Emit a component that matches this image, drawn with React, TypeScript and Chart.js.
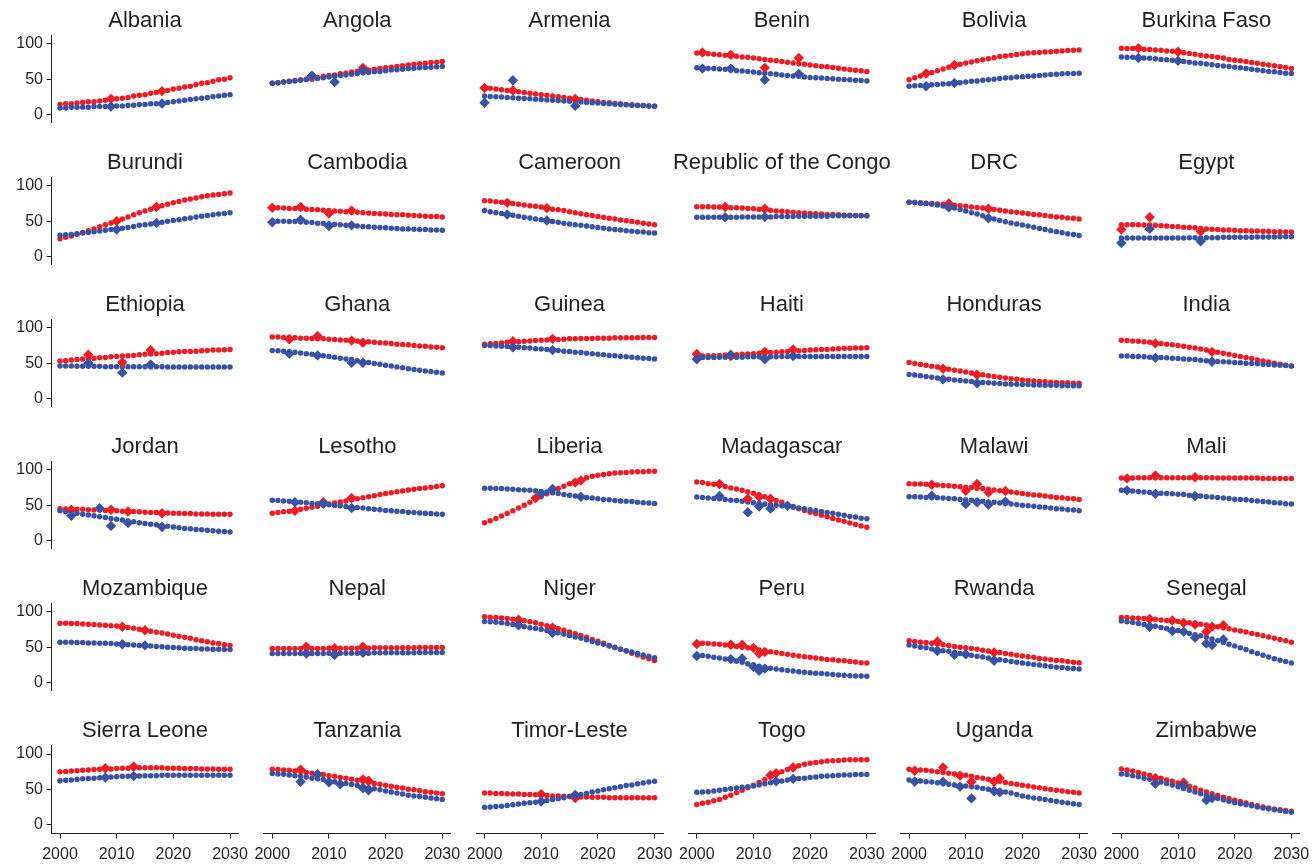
import React, { useEffect, useRef } from 'react';
import { Chart, registerables } from 'chart.js';

Chart.register(...registerables);

// ---------- axes ----------
const YEARS = [2000, 2001, 2002, 2003, 2004, 2005, 2006, 2007, 2008, 2009, 2010, 2011, 2012, 2013, 2014, 2015, 2016, 2017, 2018, 2019, 2020, 2021, 2022, 2023, 2024, 2025, 2026, 2027, 2028, 2029, 2030];
const X_TICKS = [2000, 2010, 2020, 2030];
const Y_TICKS = [0, 50, 100];

// ---------- data (red = first series, blue = second series; *Obs = observed diamonds [year, value]) ----------
const albaniaRed = [14, 15, 15, 16, 17, 18, 18, 19, 20, 21, 22, 23, 24, 26, 27, 28, 30, 31, 33, 34, 36, 37, 39, 40, 42, 44, 45, 47, 49, 50, 52];
const albaniaBlue = [9, 9, 10, 10, 10, 10, 11, 11, 11, 12, 12, 12, 13, 13, 14, 14, 15, 15, 16, 17, 18, 19, 20, 21, 22, 23, 24, 25, 26, 27, 28];
const albaniaRedObs = [[2009, 22], [2018, 33]];
const albaniaBlueObs = [[2009, 11], [2018, 15.5]];

const angolaRed = [44, 45, 46, 47, 48, 49, 50, 51.5, 52.5, 54, 55, 56, 57.5, 58.5, 60, 61, 62, 63, 64, 65, 66, 67, 68, 69, 70, 71, 72, 72.5, 73.5, 74, 75];
const angolaBlue = [44, 45, 46, 46.5, 47.5, 48.5, 49.5, 50, 51, 52, 53, 54, 55, 56, 57, 58, 59, 59.5, 60.5, 61, 62, 63, 63.5, 64, 65, 65.5, 66, 66.5, 67, 67.5, 68];
const angolaRedObs = [[2007, 54], [2016, 66]];
const angolaBlueObs = [[2007, 55], [2011, 46], [2016, 62]];

const armeniaRed = [37.5, 37, 36, 35, 34, 33, 32, 31, 30, 29, 28, 27, 26, 25, 24, 23, 22, 21, 20, 19, 18, 17, 16.5, 15.5, 15, 14, 13.5, 13, 12.5, 12, 11.5];
const armeniaBlue = [26, 25.5, 25, 24.5, 24, 23.5, 23, 22.5, 22, 21.5, 21, 20.5, 20, 19.5, 19, 18.5, 18, 17.5, 17, 16.5, 16, 15.5, 15, 14.5, 14, 13.5, 13, 12.5, 12.5, 12, 11.5];
const armeniaRedObs = [[2000, 37.5], [2005, 34], [2016, 22]];
const armeniaBlueObs = [[2000, 16.5], [2005, 48.5], [2016, 12]];

const beninRed = [87, 86.5, 86, 85.5, 84.5, 84, 83, 82.5, 81.5, 81, 80, 79, 78, 77, 76, 75, 74, 73, 72, 71, 70, 69, 68, 67.5, 66.5, 65.5, 64.5, 63.5, 62.5, 62, 61];
const beninBlue = [66, 65.5, 65, 65, 64.5, 64, 63, 62, 61.5, 61, 60, 59, 58.5, 57.5, 57, 56, 55, 54.5, 54, 53, 52.5, 52, 51.5, 51, 50.5, 50, 49.5, 49, 48.5, 48, 47.5];
const beninRedObs = [[2001, 88], [2006, 84.5], [2012, 66], [2018, 80]];
const beninBlueObs = [[2001, 65], [2006, 65], [2012, 49], [2018, 57.5]];

const boliviaRed = [49, 52, 54.5, 57, 59.5, 62, 64.5, 67, 69, 71, 73, 74.5, 76, 77.5, 79, 80.5, 82, 83, 84, 85, 86, 87, 87.5, 88, 88.5, 89, 89.5, 90, 90.5, 91, 91.5];
const boliviaBlue = [40, 40.5, 41, 41.5, 42, 42.5, 43, 43.5, 44.5, 45, 46, 47, 47.5, 48.5, 49, 50, 51, 51.5, 52, 53, 53.5, 54, 54.5, 55, 56, 56.5, 57, 57.5, 58, 58, 58.5];
const boliviaRedObs = [[2003, 58], [2008, 70]];
const boliviaBlueObs = [[2003, 40], [2008, 44.5]];

const burkinaRed = [94, 93.5, 93.5, 93, 92.5, 92, 91.5, 91, 90, 89.5, 88.5, 87.5, 86.5, 85.5, 84, 83, 82, 81, 80, 78, 77, 76, 75, 73.5, 72.5, 71, 70, 69, 67.5, 66.5, 65];
const burkinaBlue = [81.5, 81, 81, 80.5, 80, 79.5, 79, 78, 77.5, 77, 76, 75, 74, 73, 72.5, 71.5, 70.5, 69.5, 68.5, 68, 67, 66, 65, 64, 63, 62, 61, 60.5, 59.5, 58.5, 58];
const burkinaRedObs = [[2003, 94], [2010, 89]];
const burkinaBlueObs = [[2003, 80], [2010, 76]];

const burundiRed = [25, 27, 29, 31.5, 34, 36.5, 39, 42, 45, 47.5, 50, 53, 56, 59, 62, 64.5, 67, 69.5, 72, 74, 76, 78, 80, 81.5, 83, 84.5, 86, 87, 88, 89, 90];
const burundiBlue = [30, 30.5, 31, 32, 33, 34, 35, 36, 37, 38, 39, 40, 41, 42.5, 44, 45, 46, 47.5, 48.5, 50, 51, 52, 53.5, 54.5, 56, 57, 58, 59, 60, 61, 62];
const burundiRedObs = [[2010, 50], [2017, 70]];
const burundiBlueObs = [[2010, 38], [2017, 47.5]];

const cambodiaRed = [69, 69, 68.5, 68, 68, 67.5, 67, 66.5, 66, 65.5, 65, 64.5, 64, 63.5, 63, 62.5, 62, 61.5, 61, 60.5, 60, 59.5, 59, 59, 58.5, 58, 57.5, 57, 56.5, 56.5, 56];
const cambodiaBlue = [50, 50, 50, 49.5, 49.5, 49, 48.5, 48, 47, 46.5, 46, 45.5, 45, 44, 43.5, 43, 42.5, 42, 41.5, 41, 40.5, 40, 39.5, 39, 39, 38.5, 38, 38, 37.5, 37.5, 37];
const cambodiaRedObs = [[2000, 69], [2005, 70], [2010, 61], [2014, 65]];
const cambodiaBlueObs = [[2000, 48.5], [2005, 52], [2010, 43], [2014, 44]];

const cameroonRed = [79, 78.5, 77.5, 77, 76, 75, 74, 73, 72, 71, 70, 68.5, 67, 66, 65, 63.5, 62, 60.5, 59, 58, 56.5, 55.5, 54, 53, 51.5, 50.5, 49.5, 48.5, 47, 46, 45];
const cameroonBlue = [65, 63.5, 62, 61, 59.5, 58.5, 57, 55.5, 54.5, 53, 52, 51, 49.5, 48.5, 47, 46, 45, 44, 43, 42, 41, 40, 39, 38, 37.5, 36.5, 35.5, 35, 34.5, 33.5, 33];
const cameroonRedObs = [[2004, 76], [2011, 68.5]];
const cameroonBlueObs = [[2004, 59.5], [2011, 51]];

const congoRed = [70.5, 70.5, 70.5, 70, 70, 69.5, 69, 69, 68.5, 68, 67.5, 67, 66, 65.5, 64.5, 64, 63.5, 62.5, 62, 61.5, 61, 60.5, 60, 59.5, 59.5, 59, 58.5, 58.5, 58, 58, 57.5];
const congoBlue = [55.5, 55.5, 55.5, 55.5, 55.5, 55.5, 55.5, 55.5, 56, 56, 56, 56, 56, 56, 56.5, 56.5, 56.5, 56.5, 57, 57, 57, 57, 57, 57, 57.5, 57.5, 57.5, 57.5, 57.5, 57.5, 57.5];
const congoRedObs = [[2005, 70], [2012, 67.5]];
const congoBlueObs = [[2005, 55.5], [2012, 56]];

const drcRed = [77, 76.5, 76, 75.5, 75, 74.5, 74, 73.5, 72.5, 72, 71, 70, 69.5, 68.5, 67.5, 66.5, 65.5, 64.5, 63.5, 62.5, 61.5, 60.5, 59.5, 59, 58, 57, 56, 55.5, 54.5, 54, 53];
const drcBlue = [77, 76.5, 75.5, 75, 74, 73, 71.5, 70, 68.5, 66.5, 64.5, 62, 60, 57.5, 55, 53, 51, 49, 47.5, 46, 44.5, 43, 41.5, 39.5, 38, 36.5, 35, 33.5, 32, 31, 29.5];
const drcRedObs = [[2007, 75], [2014, 67.5]];
const drcBlueObs = [[2007, 69.5], [2014, 54]];

const egyptRed = [45, 45, 45, 45, 44.5, 44.5, 44, 43.5, 43, 42.5, 42, 41.5, 41, 40.5, 39.5, 39, 38.5, 38, 37.5, 37.5, 37, 36.5, 36.5, 36, 36, 35.5, 35.5, 35, 35, 34.5, 34.5];
const egyptBlue = [26, 26, 26, 26, 26, 26, 26, 26, 26, 26, 26, 26, 26.5, 26.5, 26.5, 26.5, 26.5, 26.5, 27, 27, 27, 27, 27, 27, 27.5, 27.5, 27.5, 27.5, 28, 28, 28];
const egyptRedObs = [[2000, 38], [2005, 55.5], [2014, 35.5]];
const egyptBlueObs = [[2000, 19], [2005, 39], [2014, 21.5]];

const ethiopiaRed = [53, 53.5, 54.5, 55, 56, 56.5, 57, 57.5, 58, 59, 59.5, 60, 60.5, 61, 62, 62.5, 63, 63.5, 64, 65, 65.5, 66, 66.5, 66.5, 67, 67.5, 68, 68.5, 68.5, 69, 69.5];
const ethiopiaBlue = [46, 46, 46, 45.5, 45.5, 45.5, 45.5, 45.5, 45, 45, 45, 45, 45, 45, 45, 45, 45, 45, 45, 44.5, 44.5, 44.5, 44.5, 44.5, 44.5, 44.5, 44.5, 44.5, 44.5, 44.5, 44.5];
const ethiopiaRedObs = [[2005, 62], [2011, 51], [2016, 68.5]];
const ethiopiaBlueObs = [[2005, 50], [2011, 36.5], [2016, 48]];

const ghanaRed = [87, 87, 86.5, 86.5, 86, 85.5, 85.5, 85, 84.5, 84.5, 84, 83.5, 83, 82.5, 82, 81.5, 81, 80.5, 79.5, 79, 78.5, 78, 77, 76.5, 76, 75, 74.5, 74, 73, 72.5, 72];
const ghanaBlue = [68, 67.5, 67, 66, 65.5, 64.5, 63.5, 62.5, 61.5, 60.5, 59.5, 58.5, 57, 56, 55, 53.5, 52, 51, 49.5, 48.5, 47, 46, 44.5, 43.5, 42, 41, 40, 39, 38, 37, 36];
const ghanaRedObs = [[2003, 84], [2008, 88.5], [2014, 82], [2016, 79]];
const ghanaBlueObs = [[2003, 63.5], [2008, 61], [2014, 50.5], [2016, 50.5]];

const guineaRed = [77, 77.5, 78, 78.5, 79.5, 80, 80.5, 81, 81.5, 82, 82.5, 83, 83.5, 83.5, 84, 84.5, 84.5, 85, 85, 85, 85.5, 85.5, 85.5, 86, 86, 86, 86, 86, 86.5, 86.5, 86.5];
const guineaBlue = [75, 75, 74.5, 74, 73.5, 73, 72.5, 72, 71.5, 70.5, 70, 69.5, 68.5, 68, 67, 66.5, 65.5, 65, 64, 63.5, 62.5, 62, 61, 60.5, 59.5, 59, 58.5, 57.5, 57, 56.5, 56];
const guineaRedObs = [[2005, 81], [2012, 84.5]];
const guineaBlueObs = [[2005, 72.5], [2012, 68.5]];

const haitiRed = [60, 60, 60.5, 60.5, 61, 61.5, 62, 62, 62.5, 63, 63.5, 64, 64.5, 65, 65.5, 66, 66.5, 67, 67.5, 68, 68.5, 69, 69.5, 69.5, 70, 70.5, 71, 71, 71.5, 71.5, 72];
const haitiBlue = [58, 58, 58, 58, 58.5, 58.5, 58.5, 58.5, 58.5, 59, 59, 59, 59, 59, 59, 59.5, 59.5, 59.5, 59.5, 59.5, 59.5, 59.5, 59.5, 59.5, 59.5, 59.5, 59.5, 59.5, 59.5, 59.5, 59.5];
const haitiRedObs = [[2000, 63], [2006, 60], [2012, 66], [2017, 69.5]];
const haitiBlueObs = [[2000, 55.5], [2006, 62], [2012, 55.5], [2017, 60]];

const hondurasRed = [51, 49.5, 48, 47, 45.5, 44.5, 43, 41.5, 40, 39, 37.5, 36, 34.5, 33.5, 32, 31, 30, 29, 28, 27, 26, 25.5, 24.5, 24, 23.5, 23, 22.5, 22, 22, 21.5, 21.5];
const hondurasBlue = [34, 33, 32, 31, 30, 29, 28, 27, 26, 25.5, 24.5, 24, 23, 22.5, 22, 21.5, 21, 20.5, 20, 20, 19.5, 19.5, 19, 19, 18.5, 18.5, 18.5, 18, 18, 18, 18];
const hondurasRedObs = [[2006, 42], [2012, 33.5]];
const hondurasBlueObs = [[2006, 27], [2012, 21.5]];

const indiaRed = [82.5, 82, 81.5, 81, 80.5, 79.5, 79, 78, 77, 76, 75, 74, 72.5, 71.5, 70, 68.5, 67, 65.5, 64, 62.5, 61, 59.5, 58, 56.5, 54.5, 53, 51.5, 50, 48.5, 47, 46];
const indiaBlue = [60, 60, 59.5, 59.5, 59, 58.5, 58, 58, 57.5, 57, 56.5, 56, 55.5, 55, 54, 53.5, 53, 52.5, 52, 51.5, 51, 50.5, 50, 49.5, 49, 48.5, 48, 47.5, 47, 46.5, 46];
const indiaRedObs = [[2006, 78], [2016, 66]];
const indiaBlueObs = [[2006, 57.5], [2016, 52]];

const jordanRed = [45, 44.5, 44.5, 44, 44, 43.5, 43, 43, 42.5, 42.5, 42, 41.5, 41, 41, 40.5, 40, 39.5, 39.5, 39, 39, 38.5, 38.5, 38, 38, 37.5, 37.5, 37.5, 37, 37, 37, 37];
const jordanBlue = [42, 41, 39.5, 38.5, 37, 36, 35, 33.5, 32.5, 31, 30, 29, 27.5, 26.5, 25, 24, 23, 22, 21, 20, 19, 18, 17, 16.5, 15.5, 15, 14.5, 13.5, 13, 12.5, 12];
const jordanRedObs = [[2002, 43.5], [2009, 43.5], [2012, 41], [2018, 38.5]];
const jordanBlueObs = [[2002, 35], [2007, 45.5], [2009, 20.5], [2012, 24.5], [2018, 19]];

const lesothoRed = [38.5, 39.5, 40.5, 41.5, 42.5, 44, 45.5, 47, 48.5, 50, 51.5, 53, 54.5, 56, 57.5, 59, 60.5, 62, 63.5, 65, 66.5, 67.5, 69, 70, 71.5, 72.5, 73.5, 74.5, 75.5, 76.5, 77.5];
const lesothoBlue = [57, 56.5, 56, 55.5, 54.5, 54, 53.5, 52.5, 52, 51, 50.5, 49.5, 49, 48, 47.5, 46.5, 46, 45, 44, 43.5, 42.5, 42, 41.5, 41, 40, 39.5, 39, 38.5, 38, 37.5, 37];
const lesothoRedObs = [[2004, 42], [2009, 54], [2014, 60]];
const lesothoBlueObs = [[2004, 54], [2009, 52], [2014, 46]];

const liberiaRed = [25, 28, 31, 34.5, 38, 42, 46, 50, 54, 58, 62, 66, 70, 73.5, 77, 80.5, 84, 86.5, 89, 91, 92.5, 93.5, 94.5, 95.5, 96, 96.5, 97, 97.5, 97.5, 98, 98];
const liberiaBlue = [74, 74, 73.5, 73.5, 73, 72.5, 72, 71.5, 71, 70.5, 69.5, 68.5, 67.5, 66.5, 65, 64, 63, 62, 61, 60, 59, 58, 57.5, 56.5, 56, 55.5, 55, 54, 53.5, 53, 52.5];
const liberiaRedObs = [[2009, 60], [2016, 82], [2017, 85]];
const liberiaBlueObs = [[2010, 66], [2012, 73], [2017, 62]];

const madagascarRed = [83, 82, 80.5, 79.5, 78, 76.5, 74.5, 73, 71, 69, 67, 64.5, 62, 59, 56.5, 54, 51, 48, 45, 42.5, 40, 38, 35.5, 33.5, 31, 29, 27, 24.5, 22.5, 20.5, 18.5];
const madagascarBlue = [61.5, 61, 60, 59.5, 59, 58, 57, 56.5, 55.5, 54.5, 53.5, 52.5, 51.5, 50.5, 50, 49, 48, 47, 46, 45, 43.5, 42, 41, 39.5, 38.5, 37, 35.5, 34, 33, 31.5, 30.5];
const madagascarRedObs = [[2004, 80], [2009, 59], [2011, 62], [2013, 59]];
const madagascarBlueObs = [[2004, 63], [2009, 40], [2011, 48], [2013, 45], [2016, 49]];

const malawiRed = [80.5, 80, 80, 79.5, 79, 78.5, 78, 77.5, 77, 76, 75.5, 75, 74, 73.5, 72.5, 71.5, 70.5, 69.5, 68.5, 67.5, 66.5, 65.5, 64.5, 64, 63, 62, 61, 60.5, 59.5, 59, 58];
const malawiBlue = [62, 62, 61.5, 61, 61, 60.5, 60, 59.5, 59, 58, 57.5, 57, 56, 55.5, 54.5, 54, 53, 52.5, 51.5, 51, 50, 49, 48.5, 47.5, 47, 46, 45, 44.5, 43.5, 43, 42];
const malawiRedObs = [[2004, 79], [2010, 70.5], [2012, 80], [2014, 68], [2017, 70]];
const malawiBlueObs = [[2004, 63.5], [2010, 51.5], [2012, 54], [2014, 50.5], [2017, 55]];

const maliRed = [88.5, 88.5, 88.5, 89, 89, 89, 89, 89, 89, 89, 89, 89, 89, 89, 89, 89, 89, 88.5, 88.5, 88.5, 88.5, 88.5, 88.5, 88.5, 88.5, 88, 88, 88, 88, 88, 88];
const maliBlue = [71, 70.5, 70, 69.5, 68.5, 68, 67.5, 67, 66.5, 66, 65.5, 65, 64, 63.5, 63, 62, 61.5, 61, 60, 59.5, 58.5, 58, 57.5, 56.5, 56, 55, 54.5, 53.5, 53, 52, 51.5];
const maliRedObs = [[2001, 88], [2006, 92], [2013, 89.5]];
const maliBlueObs = [[2001, 71], [2006, 66], [2013, 63]];

const mozambiqueRed = [84, 84, 83.5, 83.5, 83, 82.5, 82, 81.5, 81, 80.5, 80, 79, 78, 77, 75.5, 74, 72.5, 71, 70, 68.5, 67, 65.5, 64, 62.5, 60.5, 59, 57.5, 56, 55, 53.5, 52.5];
const mozambiqueBlue = [57, 57, 57, 56.5, 56.5, 56, 56, 55.5, 55.5, 55, 54.5, 54, 53.5, 53, 52.5, 52, 51.5, 51, 50.5, 50, 49.5, 49, 48.5, 48, 48, 47.5, 47.5, 47, 47, 46.5, 46.5];
const mozambiqueRedObs = [[2011, 79], [2015, 74]];
const mozambiqueBlueObs = [[2011, 54], [2015, 52.5]];

const nepalRed = [48, 48, 48, 48, 48, 48, 48, 48, 48, 48, 48.5, 48.5, 48.5, 48.5, 48.5, 48.5, 48.5, 48.5, 49, 49, 49, 49, 49, 49, 49, 49, 49.5, 49.5, 49.5, 49.5, 49.5];
const nepalBlue = [41, 41, 41, 41, 41, 41, 41, 41, 41, 41, 41.5, 41.5, 41.5, 41.5, 41.5, 41.5, 41.5, 41.5, 42, 42, 42, 42, 42, 42, 42, 42, 42.5, 42.5, 42.5, 42.5, 42.5];
const nepalRedObs = [[2006, 50.5], [2011, 48.5], [2016, 50.5]];
const nepalBlueObs = [[2006, 41], [2011, 39], [2016, 42]];

const nigerRed = [93, 92.5, 92, 91.5, 90.5, 89.5, 88.5, 87.5, 86, 84.5, 82.5, 80.5, 78.5, 76, 74, 71.5, 69, 66.5, 64, 61, 58.5, 55.5, 52.5, 50, 47, 44.5, 41.5, 39, 36, 33.5, 31];
const nigerBlue = [86.5, 86, 85.5, 84.5, 83.5, 82, 80.5, 79, 77.5, 76.5, 75, 73.5, 72, 70.5, 68.5, 66.5, 64.5, 62.5, 60.5, 58, 56, 54, 51.5, 49.5, 47, 45, 43, 41, 39, 37, 35];
const nigerRedObs = [[2006, 89], [2012, 78]];
const nigerBlueObs = [[2006, 81], [2012, 70.5]];

const peruRed = [56, 55.5, 55, 54.5, 54, 53, 52, 51, 50, 49, 47.5, 46, 45, 43.5, 42.5, 41, 40, 38.5, 37.5, 36.5, 35.5, 34.5, 33.5, 32.5, 32, 31, 30.5, 29.5, 29, 28, 27.5];
const peruBlue = [39, 38, 37, 35.5, 34.5, 33, 31.5, 30, 28.5, 26.5, 25, 23, 21.5, 20, 19, 18, 17, 16, 15, 14.5, 13.5, 13, 12.5, 12, 11, 10.5, 10, 9.5, 9, 9, 8.5];
const peruRedObs = [[2000, 54.5], [2006, 53.5], [2008, 53.5], [2010, 49], [2011, 41], [2012, 43]];
const peruBlueObs = [[2000, 37.5], [2006, 33], [2008, 34], [2010, 22], [2011, 16.5], [2012, 19.5]];

const rwandaRed = [59, 58, 57, 56.5, 55.5, 54.5, 53.5, 52.5, 51, 50, 49, 48, 47, 45.5, 44.5, 43.5, 42.5, 41, 40, 38.5, 37.5, 36.5, 35.5, 34, 33, 32, 31, 30.5, 29.5, 28.5, 28];
const rwandaBlue = [53, 51.5, 50, 49, 47.5, 46.5, 45, 44, 42.5, 41, 40, 38.5, 37, 36, 34.5, 33.5, 32, 31, 29.5, 28.5, 27.5, 26.5, 25.5, 24.5, 23.5, 22.5, 21.5, 21, 20, 19.5, 19];
const rwandaRedObs = [[2005, 58], [2015, 42.5]];
const rwandaBlueObs = [[2005, 44.5], [2008, 39], [2010, 40], [2015, 30.5]];

const senegalRed = [92, 92, 91.5, 91, 90.5, 90, 89.5, 88.5, 88, 87, 86.5, 85.5, 84.5, 83.5, 82.5, 81.5, 80, 79, 77.5, 76, 74.5, 73, 71.5, 69.5, 68, 66, 64.5, 62.5, 61, 59, 57];
const senegalBlue = [87, 86, 85, 83.5, 82, 80.5, 79.5, 78, 76.5, 75, 73.5, 71.5, 69.5, 67.5, 66, 64, 61.5, 59, 56.5, 54, 51.5, 49, 46.5, 43.5, 41, 38.5, 36, 33.5, 31.5, 29.5, 27.5];
const senegalRedObs = [[2005, 90], [2009, 88], [2011, 84.5], [2013, 82], [2015, 72], [2016, 79], [2018, 81]];
const senegalBlueObs = [[2005, 79], [2009, 73], [2011, 72], [2013, 63.5], [2015, 55], [2016, 53], [2018, 61]];

const sierraLeoneRed = [75, 75.5, 76, 76.5, 77, 77.5, 78, 78.5, 79, 79, 79.5, 80, 80, 80, 80.5, 80.5, 80.5, 80.5, 80.5, 80, 80, 80, 79.5, 79.5, 79.5, 79, 79, 79, 78.5, 78.5, 78.5];
const sierraLeoneBlue = [62.5, 63, 63.5, 64, 65, 65.5, 66, 66.5, 67, 67.5, 68, 68.5, 68.5, 69, 69, 69.5, 69.5, 69.5, 70, 70, 70, 70, 70, 70, 70, 70, 70, 70, 70, 70, 70];
const sierraLeoneRedObs = [[2008, 80], [2013, 82.5]];
const sierraLeoneBlueObs = [[2008, 67], [2013, 69]];

const tanzaniaRed = [78.5, 78, 77.5, 77, 76, 75, 74, 73, 72, 71, 69.5, 68.5, 67, 66, 64.5, 63, 61.5, 60, 58.5, 57.5, 56, 54.5, 53, 52, 50.5, 49.5, 48.5, 47, 46, 45, 44];
const tanzaniaBlue = [72.5, 72, 71.5, 70.5, 69.5, 68.5, 67.5, 66, 65, 64, 62.5, 61, 59.5, 58.5, 57, 55.5, 54, 52.5, 51, 49.5, 48, 46.5, 45, 43.5, 42, 41, 40, 39, 38, 37, 36];
const tanzaniaRedObs = [[2005, 78], [2008, 71.5], [2016, 64], [2017, 62.5]];
const tanzaniaBlueObs = [[2005, 61], [2008, 71], [2010, 60], [2012, 57.5], [2016, 52], [2017, 49]];

const timorRed = [45, 45, 44.5, 44.5, 44, 43.5, 43.5, 43, 43, 42.5, 42, 41.5, 41, 41, 40.5, 40, 40, 39.5, 39.5, 39, 39, 39, 38.5, 38.5, 38.5, 38.5, 38.5, 38.5, 38.5, 38.5, 38.5];
const timorBlue = [25, 25.5, 26, 26.5, 27.5, 28.5, 29.5, 30.5, 31.5, 32, 33, 34.5, 36, 37, 38.5, 40, 41.5, 43, 44.5, 46.5, 48, 49.5, 51, 52.5, 54, 55.5, 56.5, 58, 59, 60.5, 61.5];
const timorRedObs = [[2010, 43.5], [2016, 38]];
const timorBlueObs = [[2010, 33], [2016, 42.5]];

const togoRed = [29, 30.5, 32, 34, 36, 39, 42, 45.5, 49, 52.5, 56, 60, 64, 68, 72, 75, 78, 81, 83.5, 85.5, 87, 88, 89, 90, 90.5, 91, 91.5, 92, 92, 92, 92];
const togoBlue = [46, 46.5, 47, 48, 49, 50, 51, 52, 53, 54, 55, 56.5, 58, 59.5, 61, 62, 63.5, 64.5, 65.5, 66, 67, 67.5, 68.5, 69, 69.5, 70, 70.5, 70.5, 71, 71, 71];
const togoRedObs = [[2013, 70], [2014, 73], [2017, 81]];
const togoBlueObs = [[2014, 61.5], [2017, 65]];

const ugandaRed = [78.5, 78, 77.5, 77, 76, 75, 74, 73, 72, 71, 70, 68.5, 67, 66, 64.5, 63, 61.5, 60, 58.5, 57.5, 56, 55, 53.5, 52.5, 51, 50, 49, 48, 47, 46, 45];
const ugandaBlue = [63.5, 63, 62, 61, 60.5, 59.5, 58.5, 57.5, 56.5, 56, 55, 54, 53, 51.5, 50.5, 49.5, 48, 46.5, 45, 43, 41, 39.5, 38, 37, 36, 34.5, 33.5, 32, 31, 30, 29];
const ugandaRedObs = [[2001, 76.5], [2006, 81], [2009, 69.5], [2011, 61], [2015, 61], [2016, 66]];
const ugandaBlueObs = [[2001, 61], [2006, 61], [2009, 54], [2011, 37.5], [2015, 47.5], [2016, 46]];

const zimbabweRed = [79, 77.5, 76, 74, 72, 70, 68, 66, 63.5, 61.5, 59, 57, 54.5, 52, 49, 46.5, 44, 41.5, 39, 37, 35, 33, 31, 29, 27, 25.5, 24, 22.5, 21.5, 20.5, 19.5];
const zimbabweBlue = [72, 71, 69.5, 68, 66, 64.5, 62.5, 60.5, 58.5, 56.5, 54, 51.5, 49, 46.5, 44, 41.5, 39.5, 37.5, 35.5, 33.5, 31.5, 30, 28.5, 27, 25.5, 24, 23, 21.5, 20.5, 19, 18];
const zimbabweRedObs = [[2006, 66], [2011, 60]];
const zimbabweBlueObs = [[2006, 58], [2011, 55.5], [2015, 35], [2016, 38]];

const PANELS = [
  { name: 'Albania', red: albaniaRed, blue: albaniaBlue, redObs: albaniaRedObs, blueObs: albaniaBlueObs },
  { name: 'Angola', red: angolaRed, blue: angolaBlue, redObs: angolaRedObs, blueObs: angolaBlueObs },
  { name: 'Armenia', red: armeniaRed, blue: armeniaBlue, redObs: armeniaRedObs, blueObs: armeniaBlueObs },
  { name: 'Benin', red: beninRed, blue: beninBlue, redObs: beninRedObs, blueObs: beninBlueObs },
  { name: 'Bolivia', red: boliviaRed, blue: boliviaBlue, redObs: boliviaRedObs, blueObs: boliviaBlueObs },
  { name: 'Burkina Faso', red: burkinaRed, blue: burkinaBlue, redObs: burkinaRedObs, blueObs: burkinaBlueObs },
  { name: 'Burundi', red: burundiRed, blue: burundiBlue, redObs: burundiRedObs, blueObs: burundiBlueObs },
  { name: 'Cambodia', red: cambodiaRed, blue: cambodiaBlue, redObs: cambodiaRedObs, blueObs: cambodiaBlueObs },
  { name: 'Cameroon', red: cameroonRed, blue: cameroonBlue, redObs: cameroonRedObs, blueObs: cameroonBlueObs },
  { name: 'Republic of the Congo', red: congoRed, blue: congoBlue, redObs: congoRedObs, blueObs: congoBlueObs },
  { name: 'DRC', red: drcRed, blue: drcBlue, redObs: drcRedObs, blueObs: drcBlueObs },
  { name: 'Egypt', red: egyptRed, blue: egyptBlue, redObs: egyptRedObs, blueObs: egyptBlueObs },
  { name: 'Ethiopia', red: ethiopiaRed, blue: ethiopiaBlue, redObs: ethiopiaRedObs, blueObs: ethiopiaBlueObs },
  { name: 'Ghana', red: ghanaRed, blue: ghanaBlue, redObs: ghanaRedObs, blueObs: ghanaBlueObs },
  { name: 'Guinea', red: guineaRed, blue: guineaBlue, redObs: guineaRedObs, blueObs: guineaBlueObs },
  { name: 'Haiti', red: haitiRed, blue: haitiBlue, redObs: haitiRedObs, blueObs: haitiBlueObs },
  { name: 'Honduras', red: hondurasRed, blue: hondurasBlue, redObs: hondurasRedObs, blueObs: hondurasBlueObs },
  { name: 'India', red: indiaRed, blue: indiaBlue, redObs: indiaRedObs, blueObs: indiaBlueObs },
  { name: 'Jordan', red: jordanRed, blue: jordanBlue, redObs: jordanRedObs, blueObs: jordanBlueObs },
  { name: 'Lesotho', red: lesothoRed, blue: lesothoBlue, redObs: lesothoRedObs, blueObs: lesothoBlueObs },
  { name: 'Liberia', red: liberiaRed, blue: liberiaBlue, redObs: liberiaRedObs, blueObs: liberiaBlueObs },
  { name: 'Madagascar', red: madagascarRed, blue: madagascarBlue, redObs: madagascarRedObs, blueObs: madagascarBlueObs },
  { name: 'Malawi', red: malawiRed, blue: malawiBlue, redObs: malawiRedObs, blueObs: malawiBlueObs },
  { name: 'Mali', red: maliRed, blue: maliBlue, redObs: maliRedObs, blueObs: maliBlueObs },
  { name: 'Mozambique', red: mozambiqueRed, blue: mozambiqueBlue, redObs: mozambiqueRedObs, blueObs: mozambiqueBlueObs },
  { name: 'Nepal', red: nepalRed, blue: nepalBlue, redObs: nepalRedObs, blueObs: nepalBlueObs },
  { name: 'Niger', red: nigerRed, blue: nigerBlue, redObs: nigerRedObs, blueObs: nigerBlueObs },
  { name: 'Peru', red: peruRed, blue: peruBlue, redObs: peruRedObs, blueObs: peruBlueObs },
  { name: 'Rwanda', red: rwandaRed, blue: rwandaBlue, redObs: rwandaRedObs, blueObs: rwandaBlueObs },
  { name: 'Senegal', red: senegalRed, blue: senegalBlue, redObs: senegalRedObs, blueObs: senegalBlueObs },
  { name: 'Sierra Leone', red: sierraLeoneRed, blue: sierraLeoneBlue, redObs: sierraLeoneRedObs, blueObs: sierraLeoneBlueObs },
  { name: 'Tanzania', red: tanzaniaRed, blue: tanzaniaBlue, redObs: tanzaniaRedObs, blueObs: tanzaniaBlueObs },
  { name: 'Timor-Leste', red: timorRed, blue: timorBlue, redObs: timorRedObs, blueObs: timorBlueObs },
  { name: 'Togo', red: togoRed, blue: togoBlue, redObs: togoRedObs, blueObs: togoBlueObs },
  { name: 'Uganda', red: ugandaRed, blue: ugandaBlue, redObs: ugandaRedObs, blueObs: ugandaBlueObs },
  { name: 'Zimbabwe', red: zimbabweRed, blue: zimbabweBlue, redObs: zimbabweRedObs, blueObs: zimbabweBlueObs },
];

// ---------- styling / layout ----------
const RED = '#ED1C24';
const BLUE = '#3953A4';
const INK = '#231F20';
const FONT = '"Liberation Sans", Arial, Helvetica, sans-serif';

const NCOLS = 6;
const X2000_FIRST = 60;
const COL_STEP = 212.27;
const PX_PER_YEAR = 170 / 30;
const Y0_FIRST = 115;
const ROW_STEP = 142;
const PX_PER_UNIT = 0.71;
const X_MIN = 1998.5;
const X_MAX = 2031.5;
const Y_MIN = -12;
const Y_MAX = 112;
const Y_AXIS_W = 46;
const X_AXIS_H = 32;
const SIDE = 30;

function geometry(index: number) {
  const col = index % NCOLS;
  const row = Math.floor(index / NCOLS);
  const isLeft = col === 0;
  const isBottom = row === 5;
  const x2000 = X2000_FIRST + COL_STEP * col;
  const y0 = Y0_FIRST + ROW_STEP * row;
  const plotLeft = x2000 + (X_MIN - 2000) * PX_PER_YEAR;
  const plotRight = x2000 + (X_MAX - 2000) * PX_PER_YEAR;
  const plotTop = y0 - Y_MAX * PX_PER_UNIT;
  const plotBottom = y0 - Y_MIN * PX_PER_UNIT;
  const yw = isLeft ? Y_AXIS_W : 0;
  const xh = isBottom ? X_AXIS_H : 0;
  const cl = Math.floor(plotLeft - yw - (isLeft ? 4 : SIDE));
  const cr = Math.ceil(plotRight + SIDE);
  const ct = Math.floor(plotTop - 35);
  const cb = Math.ceil(plotBottom + xh + 4);
  return {
    isLeft, isBottom,
    left: cl, top: ct, width: cr - cl, height: cb - ct,
    pad: {
      left: plotLeft - yw - cl,
      right: cr - plotRight,
      top: plotTop - ct,
      bottom: cb - plotBottom - xh,
    },
  };
}

function Panel({ panel, index }: { panel: any; index: number }) {
  const ref = useRef<HTMLCanvasElement | null>(null);
  const g = geometry(index);

  useEffect(() => {
    const canvas = ref.current;
    if (!canvas) return;
    const titlePlugin = {
      id: 'panelTitle',
      afterDraw(chart: any) {
        const { ctx, chartArea } = chart;
        ctx.save();
        ctx.font = `22px ${FONT}`;
        ctx.fillStyle = INK;
        ctx.textAlign = 'center';
        ctx.textBaseline = 'alphabetic';
        ctx.fillText(panel.name, (chartArea.left + chartArea.right) / 2, chartArea.top - 8.5);
        ctx.restore();
      },
    };
    const axisGrid = { display: true, drawOnChartArea: false, drawTicks: true, tickLength: 5, tickWidth: 1, color: INK };
    const chart = new Chart(canvas, {
      type: 'scatter',
      data: {
        datasets: [
          {
            data: panel.red.map((v: number, i: number) => ({ x: YEARS[i], y: v })),
            backgroundColor: RED, borderColor: RED, borderWidth: 0,
            pointStyle: 'circle', pointRadius: 2.75, pointHoverRadius: 2.75, order: 4,
          },
          {
            data: panel.blue.map((v: number, i: number) => ({ x: YEARS[i], y: v })),
            backgroundColor: BLUE, borderColor: BLUE, borderWidth: 0,
            pointStyle: 'circle', pointRadius: 2.75, pointHoverRadius: 2.75, order: 3,
          },
          {
            data: panel.redObs.map((d: number[]) => ({ x: d[0], y: d[1] })),
            backgroundColor: RED, borderColor: RED, borderWidth: 0,
            pointStyle: 'rectRot', pointRadius: 5.2, pointHoverRadius: 5.2, order: 2,
          },
          {
            data: panel.blueObs.map((d: number[]) => ({ x: d[0], y: d[1] })),
            backgroundColor: BLUE, borderColor: BLUE, borderWidth: 0,
            pointStyle: 'rectRot', pointRadius: 5.2, pointHoverRadius: 5.2, order: 1,
          },
        ],
      },
      options: {
        animation: false,
        responsive: false,
        devicePixelRatio: 1,
        events: [],
        layout: { padding: g.pad },
        plugins: {
          legend: { display: false },
          tooltip: { enabled: false },
          title: { display: false },
        },
        scales: {
          x: {
            type: 'linear',
            min: X_MIN,
            max: X_MAX,
            display: g.isBottom,
            afterBuildTicks: (axis: any) => { axis.ticks = X_TICKS.map((v) => ({ value: v })); },
            afterFit: (axis: any) => {
              if (g.isBottom) axis.height = X_AXIS_H;
              axis.paddingLeft = 0; axis.paddingRight = 0; axis.paddingTop = 0; axis.paddingBottom = 0;
            },
            grid: axisGrid,
            border: { display: true, color: INK, width: 1 },
            ticks: {
              autoSkip: false, maxRotation: 0, minRotation: 0, padding: 6,
              color: INK, font: { family: FONT, size: 16 },
              callback: (v: any) => String(v),
            },
          },
          y: {
            type: 'linear',
            min: Y_MIN,
            max: Y_MAX,
            display: g.isLeft,
            afterBuildTicks: (axis: any) => { axis.ticks = Y_TICKS.map((v) => ({ value: v })); },
            afterFit: (axis: any) => {
              if (g.isLeft) axis.width = Y_AXIS_W;
              axis.paddingLeft = 0; axis.paddingRight = 0; axis.paddingTop = 0; axis.paddingBottom = 0;
            },
            grid: axisGrid,
            border: { display: true, color: INK, width: 1 },
            ticks: {
              autoSkip: false, padding: 3.5,
              color: INK, font: { family: FONT, size: 16 },
              callback: (v: any) => String(v),
            },
          },
        },
      } as any,
      plugins: [titlePlugin],
    } as any);
    return () => chart.destroy();
  }, []);

  return (
    <canvas
      ref={ref}
      width={g.width}
      height={g.height}
      style={{ position: 'absolute', left: g.left, top: g.top, width: g.width, height: g.height }}
    />
  );
}

export default function App() {
  return (
    <div style={{ position: 'fixed', left: 0, top: 0, width: 1316, height: 865, background: '#ffffff', overflow: 'hidden' }}>
      {PANELS.map((p, i) => (
        <Panel key={p.name} panel={p} index={i} />
      ))}
    </div>
  );
}
